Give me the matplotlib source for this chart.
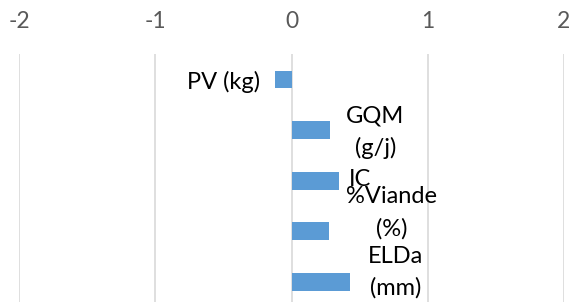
import matplotlib
matplotlib.use("Agg")
import matplotlib.pyplot as plt

categories = ["PV (kg)", "GQM\n(g/j)", "IC", "%Viande\n(%)", "ELDa\n(mm)"]
values = [-0.12, 0.286, 0.345, 0.276, 0.433]
xticks = [-2, -1, 0, 1, 2]

# label placement offsets (data units)
label_dx = [-0.11, 0.33, 0.16, 0.46, 0.33]
label_dy = [0.05, 0.04, -0.02, -0.37, -0.19]
label_ha = ["right", "center", "center", "center", "center"]

plt.rcParams['font.family'] = ['Lato', 'DejaVu Sans']

fig = plt.figure(figsize=(5.69, 3.02), dpi=100)
ax = fig.add_axes([19/569, -0.0175, 545/569, 0.8385])

ypos = list(range(len(categories)))
ax.barh(ypos, values, height=0.35, color="#5b9bd5", zorder=3)
ax.set_xlim(-2, 2)
ax.set_ylim(len(categories) - 0.5, -0.5)
ax.set_xticks(xticks)
ax.set_xticklabels([str(t) for t in xticks])
ax.xaxis.tick_top()
ax.tick_params(axis="x", length=0, pad=16, labelsize=16.5, labelcolor="#595959")
ax.set_yticks([])
for s in ax.spines.values():
    s.set_visible(False)
ax.grid(axis="x", color="#d9d9d9", linewidth=1.2, zorder=0)

for i, (c, v) in enumerate(zip(categories, values)):
    ax.text(v + label_dx[i], i + label_dy[i], c, ha=label_ha[i], va="center",
            fontsize=17, color="#000000", multialignment="center",
            linespacing=1.6, zorder=4)

fig.savefig("out.png", dpi=100)
